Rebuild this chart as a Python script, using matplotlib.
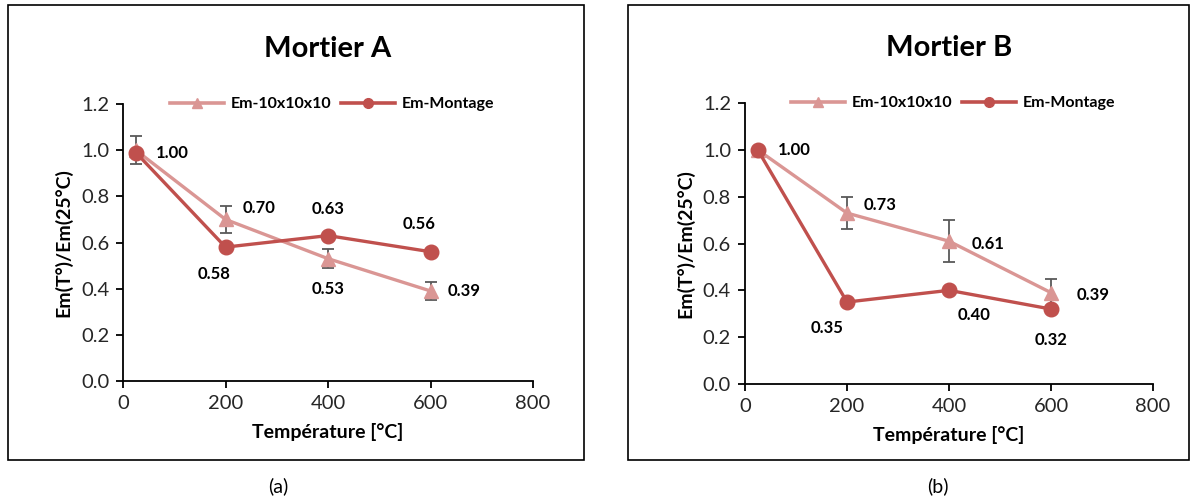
import matplotlib.pyplot as plt
from matplotlib.patches import Rectangle
from matplotlib.lines import Line2D

plt.rcParams['font.family'] = ['Lato', 'DejaVu Sans']

# données
temp = [25, 200, 400, 600]

a_cube = [1.00, 0.70, 0.53, 0.39]
a_cube_err = [0.06, 0.06, 0.04, 0.04]
a_mont = [0.99, 0.58, 0.63, 0.56]

b_cube = [1.00, 0.73, 0.61, 0.39]
b_cube_err = [0.0, 0.07, 0.09, 0.06]
b_mont = [1.00, 0.35, 0.40, 0.32]

# position des étiquettes (décalage en points) pour chaque point
a_cube_off = [None, (24, 8), (0, -22), (24, 0)]
a_mont_off = [(26, 0), (-8, -19), (0, 19), (-8, 20)]
b_cube_off = [None, (24, 6), (28, -2), (30, -2)]
b_mont_off = [(26, 0), (-14, -19), (18, -18), (0, -22)]

light = '#DA9694'
dark = '#C0504D'
err_col = '#595959'


def draw(ax, title, cube, err, mont, cube_off, mont_off):
    ax.errorbar(temp, cube, yerr=err, color=light, lw=2.4, marker='^', ms=10.5,
                ecolor=err_col, elinewidth=1.3, capsize=4, capthick=1.3, zorder=2)
    ax.plot(temp, mont, color=dark, lw=2.4, marker='o', ms=10.5, zorder=3)
    for x, y, off in zip(temp, cube, cube_off):
        if off:
            ax.annotate(f'{y:.2f}', (x, y), xytext=off, textcoords='offset points',
                        ha='center', va='center', fontsize=12, fontweight='bold')
    for x, y, off in zip(temp, mont, mont_off):
        if off:
            v = 1.00 if x == 25 else y
            ax.annotate(f'{v:.2f}', (x, y), xytext=off, textcoords='offset points',
                        ha='center', va='center', fontsize=12, fontweight='bold')
    ax.set_xlim(0, 800)
    ax.set_ylim(0, 1.2)
    ax.set_xticks([0, 200, 400, 600, 800])
    ax.set_yticks([0, 0.2, 0.4, 0.6, 0.8, 1.0, 1.2])
    ax.set_yticklabels([f'{v:.1f}' for v in ax.get_yticks()])
    for s in ['top', 'right']:
        ax.spines[s].set_visible(False)
    for s in ['left', 'bottom']:
        ax.spines[s].set_linewidth(1.3)
    ax.tick_params(direction='out', length=5, width=1.3, labelsize=14.5,
                   labelcolor='#262626', pad=5)
    ax.set_xlabel('Température [°C]', fontsize=14, fontweight='bold', labelpad=8)
    ax.set_ylabel('Em(T°)/Em(25°C)', fontsize=14, fontweight='bold', labelpad=6)
    ax.set_title(title, fontsize=21, fontweight='bold', pad=34)
    handles = [Line2D([], [], color=light, lw=2.6, marker='^', ms=7),
               Line2D([], [], color=dark, lw=2.6, marker='o', ms=7)]
    ax.legend(handles, ['Em-10x10x10', 'Em-Montage'], loc='center',
              bbox_to_anchor=(0.51, 1.0), ncol=2, frameon=False,
              prop={'weight': 'bold', 'size': 11.5}, handlelength=3.4,
              columnspacing=0.6, handletextpad=0.4)


fig = plt.figure(figsize=(11.92, 4.99), dpi=100)
ax1 = fig.add_axes([0.1032, 0.2365, 0.344, 0.555])
ax2 = fig.add_axes([0.625, 0.2305, 0.3423, 0.563])

draw(ax1, 'Mortier A', a_cube, a_cube_err, a_mont, a_cube_off, a_mont_off)
draw(ax2, 'Mortier B', b_cube, b_cube_err, b_mont, b_cube_off, b_mont_off)

# cadres
fig.patches.append(Rectangle((8 / 1192, 1 - 460 / 499), 576 / 1192, 455 / 499,
                             transform=fig.transFigure, fill=False, lw=1.2, ec='black'))
fig.patches.append(Rectangle((628 / 1192, 1 - 460 / 499), 561 / 1192, 455 / 499,
                             transform=fig.transFigure, fill=False, lw=1.2, ec='black'))

fig.text(278 / 1192, 1 - 486 / 499, '(a)', ha='center', va='center', fontsize=14)
fig.text(938 / 1192, 1 - 486 / 499, '(b)', ha='center', va='center', fontsize=14)

fig.savefig('out.png', dpi=100)
